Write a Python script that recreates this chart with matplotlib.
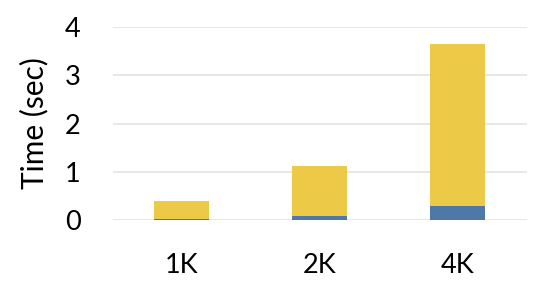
import matplotlib.pyplot as plt

categories = ['1K', '2K', '4K']
blue_part = [0.02, 0.09, 0.30]
yellow_part = [0.37, 1.03, 3.34]

plt.rcParams['font.family'] = ['Lato', 'DejaVu Sans']

fig = plt.figure(figsize=(5.38, 2.86), dpi=100)
ax = fig.add_axes([112.5 / 538, 1 - 220 / 286, 414 / 538, 193 / 286])

x = range(len(categories))
ax.bar(x, blue_part, width=0.4, color='#4E79A7', zorder=3)
ax.bar(x, yellow_part, width=0.4, bottom=blue_part, color='#EDC948', zorder=3)

ax.set_xlim(-0.5, 2.5)
ax.set_ylim(0, 4)
ax.set_yticks([0, 1, 2, 3, 4])
ax.set_xticks(list(x))
ax.set_xticklabels(categories)
ax.grid(axis='y', color='#E3E3E3', linewidth=1.2, zorder=0)
ax.tick_params(axis='both', length=0, labelsize=19.5, colors='black')
ax.tick_params(axis='x', pad=24)
ax.tick_params(axis='y', pad=23)
for s in ax.spines.values():
    s.set_visible(False)
ax.set_ylabel('Time (sec)', fontsize=21.5, labelpad=12)

fig.savefig('out.png', dpi=100)
